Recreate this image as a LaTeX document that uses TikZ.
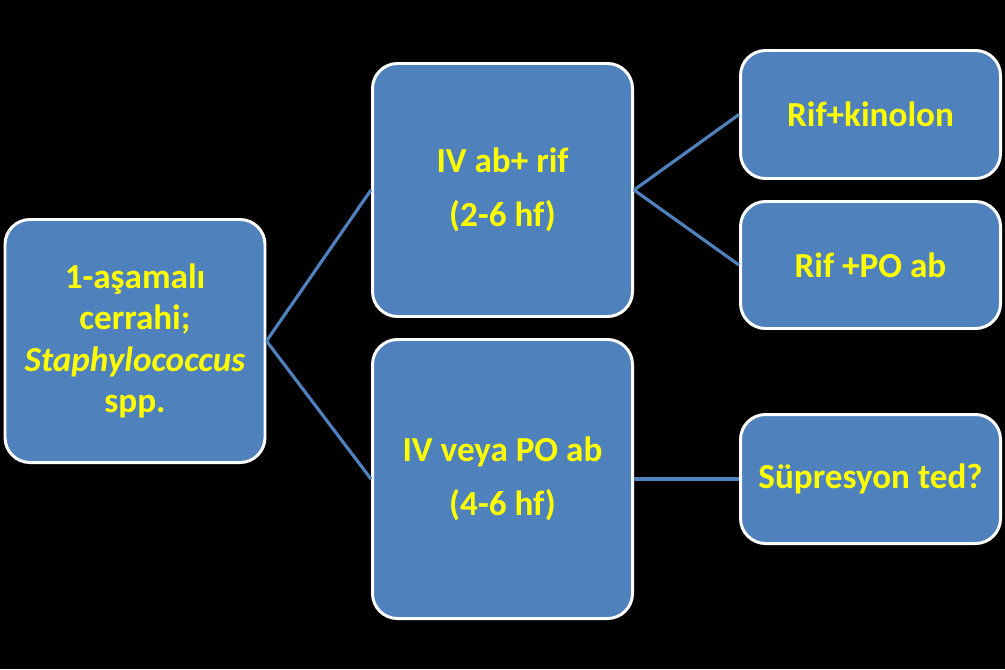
\documentclass[tikz,border=0pt]{standalone}
\usepackage{fontspec}
\setmainfont{Carlito}
\usetikzlibrary{calc}
\definecolor{boxblue}{RGB}{79,129,189}
\definecolor{txtyellow}{RGB}{255,255,0}
\tikzset{
  stagebox/.style={draw=white,line width=1.7pt,fill=boxblue,rounded corners=0.5cm,
    text=txtyellow,font=\fontsize{20}{23.5}\selectfont\bfseries,align=center,
    minimum width=5.2cm,inner sep=0pt},
  link/.style={draw=boxblue,line width=1.8pt}
}
\begin{document}
\begin{tikzpicture}
    \fill[black] (0,0) rectangle (20.1,13.38);
    \useasboundingbox (0,0) rectangle (20.1,13.38);
    % first column
    \node[stagebox,minimum height=4.86cm] (onestage) at(2.70,6.56)
      {1-aşamalı\\cerrahi;\\\textit{Staphylococcus}\\spp.};
    % second column
    \node[stagebox,minimum height=5.06cm,font=\fontsize{20}{31}\selectfont\bfseries] (ivrif) at(10.05,9.58)
      {IV ab+ rif\\(2-6 hf)};
    \node[stagebox,minimum height=5.58cm,font=\fontsize{20}{31}\selectfont\bfseries] (ivpo) at(10.05,3.80)
      {IV veya PO ab\\(4-6 hf)};
    % third column
    \node[stagebox,minimum height=2.56cm] (rifkin) at(17.41,11.09) {Rif+kinolon};
    \node[stagebox,minimum height=2.54cm] (rifpo) at(17.41,8.08) {Rif +PO ab};
    \node[stagebox,minimum height=2.58cm] (supp) at(17.41,3.80) {Süpresyon ted?};
    % connectors
    \draw[link] (onestage.east)--(ivrif.west);
    \draw[link] (onestage.east)--(ivpo.west);
    \draw[link] (ivrif.east)--(rifkin.west);
    \draw[link] (ivrif.east)--(rifpo.west);
    \draw[link] (ivpo.east)--(supp.west);
\end{tikzpicture}
\end{document}
